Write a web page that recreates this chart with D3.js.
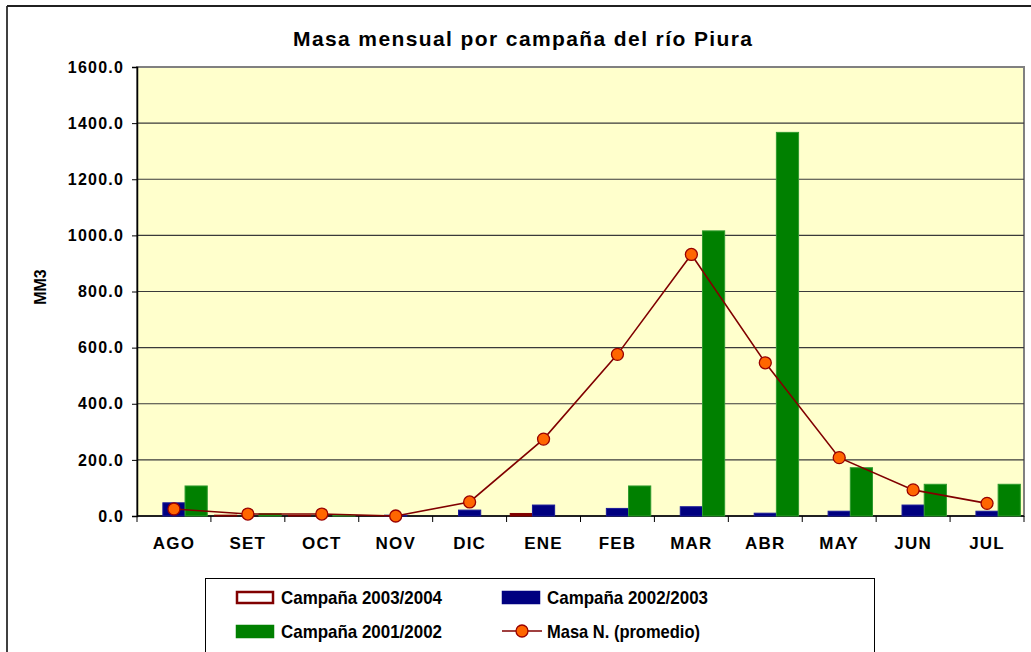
<!DOCTYPE html>
<html>
<head>
<meta charset="utf-8">
<script src="https://cdn.jsdelivr.net/npm/d3@7"></script>
<style>
  body { margin: 0; background: #fff; }
  svg { display: block; font-family: "Liberation Sans", Arial, sans-serif; }
</style>
</head>
<body>
<div id="chart"></div>
<script>
// datos
var meses = ["AGO", "SET", "OCT", "NOV", "DIC", "ENE", "FEB", "MAR", "ABR", "MAY", "JUN", "JUL"];
var campana0304 = [0, 3, 2, 0, 0, 9, 0, 0, 0, 0, 0, 0];
var campana0203 = [47, 0, 0, 3, 21, 39, 27, 33, 10, 17, 39, 17];
var campana0102 = [107, 8, 2, 0, 0, 0, 107, 1016, 1367, 172, 113, 113];
var promedio = [25, 7, 7, 0, 50, 274, 576, 932, 546, 208, 93, 45];
var yTicks = [0, 200, 400, 600, 800, 1000, 1200, 1400, 1600];

var series = [
  { name: "Campaña 2003/2004", values: campana0304, fill: "#FFFFFF", stroke: "#800000" },
  { name: "Campaña 2002/2003", values: campana0203, fill: "#000080", stroke: "#1a1a99" },
  { name: "Campaña 2001/2002", values: campana0102, fill: "#008000", stroke: "#2e9a2e" }
];

var width = 1031, height = 652;
var plot = { left: 137, top: 67, right: 1024, bottom: 516 };

var svg = d3.select("#chart").append("svg")
  .attr("width", width)
  .attr("height", height);

// marco exterior
svg.append("line").attr("x1", 7).attr("x2", 7).attr("y1", 6).attr("y2", height)
  .attr("stroke", "#404040").attr("stroke-width", 2);
svg.append("line").attr("x1", 7).attr("x2", width).attr("y1", 6).attr("y2", 6)
  .attr("stroke", "#202020").attr("stroke-width", 2);

// titulo
svg.append("text")
  .attr("x", 293).attr("y", 46)
  .attr("font-size", "21px").attr("font-weight", "bold")
  .attr("textLength", 459).attr("lengthAdjust", "spacing")
  .text("Masa mensual por campaña del río Piura");

var x = d3.scaleBand().domain(meses).range([plot.left, plot.right]);
var y = d3.scaleLinear().domain([0, 1600]).range([plot.bottom, plot.top]);

// fondo del area
svg.append("rect")
  .attr("x", plot.left).attr("y", plot.top)
  .attr("width", plot.right - plot.left).attr("height", plot.bottom - plot.top)
  .attr("fill", "#FFFFCC").attr("stroke", "#808080").attr("stroke-width", 2);

// lineas de grilla
svg.append("g").selectAll("line")
  .data(yTicks.slice(1, -1))
  .enter().append("line")
  .attr("x1", plot.left).attr("x2", plot.right)
  .attr("y1", function(d) { return y(d); }).attr("y2", function(d) { return y(d); })
  .attr("stroke", "#3a3a3a").attr("stroke-width", 1.2);

// eje y
var yAxis = svg.append("g")
  .attr("transform", "translate(" + plot.left + ",0)")
  .call(d3.axisLeft(y).tickValues(yTicks).tickSize(5).tickPadding(8)
    .tickFormat(function(d) { return d3.format(".1f")(d); }));
yAxis.select(".domain").attr("stroke", "#000").attr("stroke-width", 1.5);
yAxis.selectAll(".tick line").attr("stroke", "#000");
yAxis.selectAll("text").attr("font-size", "16px").attr("font-weight", "bold")
  .attr("letter-spacing", "1.2px")
  .attr("font-family", "'Liberation Sans', Arial, sans-serif").attr("fill", "#000");

// eje x
var xAxis = svg.append("g")
  .attr("transform", "translate(0," + plot.bottom + ")")
  .call(d3.axisBottom(x).tickSize(0).tickPadding(21));
xAxis.select(".domain").remove();
xAxis.selectAll("text").attr("font-size", "17px").attr("font-weight", "bold")
  .attr("letter-spacing", "1.2px")
  .attr("font-family", "'Liberation Sans', Arial, sans-serif").attr("fill", "#000");
svg.append("line").attr("x1", plot.left).attr("x2", plot.right)
  .attr("y1", plot.bottom).attr("y2", plot.bottom)
  .attr("stroke", "#000").attr("stroke-width", 1.5);
svg.append("g").selectAll("line")
  .data(meses.concat(["_fin"]))
  .enter().append("line")
  .attr("x1", function(d, i) { return plot.left + i * x.step(); })
  .attr("x2", function(d, i) { return plot.left + i * x.step(); })
  .attr("y1", plot.bottom).attr("y2", plot.bottom + 6)
  .attr("stroke", "#000");

// titulo eje y
svg.append("text")
  .attr("transform", "translate(46," + 287 + ") rotate(-90)")
  .attr("text-anchor", "middle")
  .attr("font-size", "16px").attr("font-weight", "bold")
  .text("MM3");

// barras
var inner = d3.scaleBand().domain([0, 1, 2])
  .range([0, x.bandwidth()]).paddingInner(0).paddingOuter(0.165);

series.forEach(function(s, si) {
  svg.append("g").selectAll("rect")
    .data(s.values)
    .enter().append("rect")
    .attr("x", function(d, i) { return x(meses[i]) + inner(si); })
    .attr("y", function(d) { return y(d); })
    .attr("width", inner.bandwidth())
    .attr("height", function(d) { return y(0) - y(d); })
    .attr("fill", function(d) { return si === 0 && d > 0 ? "#800000" : s.fill; })
    .attr("stroke", s.stroke)
    .attr("stroke-width", function(d) { return d > 0 ? 1 : 0; });
});

// linea promedio
var line = d3.line()
  .x(function(d, i) { return x(meses[i]) + x.bandwidth() / 2; })
  .y(function(d) { return y(d); });

svg.append("path")
  .datum(promedio)
  .attr("d", line)
  .attr("fill", "none")
  .attr("stroke", "#800000")
  .attr("stroke-width", 1.6);

svg.append("g").selectAll("circle")
  .data(promedio)
  .enter().append("circle")
  .attr("cx", function(d, i) { return x(meses[i]) + x.bandwidth() / 2; })
  .attr("cy", function(d) { return y(d); })
  .attr("r", 6)
  .attr("fill", "#FF6600")
  .attr("stroke", "#990000")
  .attr("stroke-width", 1.3);

// leyenda
var legend = svg.append("g");
legend.append("rect")
  .attr("x", 205.5).attr("y", 578.5).attr("width", 669).attr("height", 90)
  .attr("fill", "#fff").attr("stroke", "#000").attr("stroke-width", 1);

var items = [
  { name: series[0].name, type: "rect", fill: "#fff", stroke: "#800000", x: 236, y: 597 },
  { name: series[1].name, type: "rect", fill: "#000080", stroke: "#000080", x: 502, y: 597 },
  { name: series[2].name, type: "rect", fill: "#008000", stroke: "#008000", x: 236, y: 631 },
  { name: "Masa N. (promedio)", type: "line", x: 502, y: 631 }
];

items.forEach(function(it) {
  if (it.type === "rect") {
    legend.append("rect")
      .attr("x", it.x + 1).attr("y", it.y - 5)
      .attr("width", 36).attr("height", 11)
      .attr("fill", it.fill).attr("stroke", it.stroke).attr("stroke-width", 2.5);
  } else {
    legend.append("line")
      .attr("x1", it.x).attr("x2", it.x + 40)
      .attr("y1", it.y).attr("y2", it.y)
      .attr("stroke", "#800000").attr("stroke-width", 1.6);
    legend.append("circle")
      .attr("cx", it.x + 20).attr("cy", it.y).attr("r", 6)
      .attr("fill", "#FF6600").attr("stroke", "#990000").attr("stroke-width", 1.3);
  }
  legend.append("text")
    .attr("x", it.x + 45).attr("y", it.y + 7)
    .attr("font-size", "19px").attr("font-weight", "bold")
    .attr("textLength", it.type === "line" ? 153 : 161).attr("lengthAdjust", "spacingAndGlyphs")
    .text(it.name);
});
</script>
</body>
</html>
